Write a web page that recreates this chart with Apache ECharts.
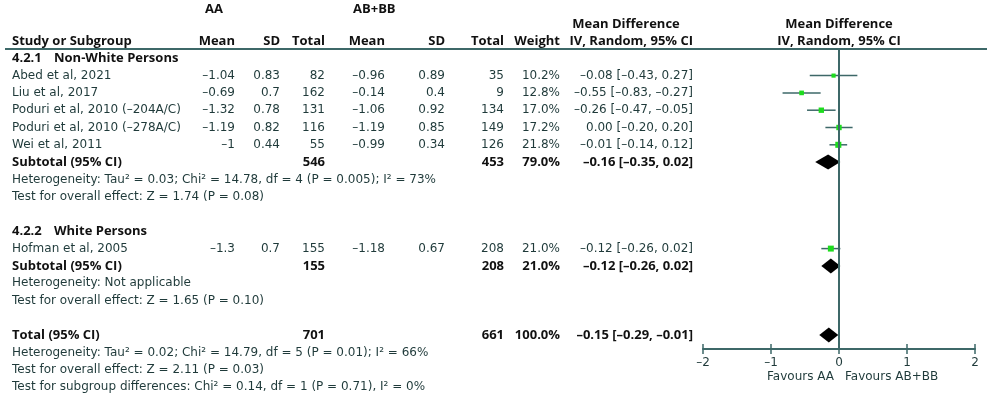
<!DOCTYPE html>
<html>
<head>
<meta charset="utf-8">
<script src="https://cdn.jsdelivr.net/npm/echarts@6/dist/echarts.min.js"></script>
<style>
  html, body { margin: 0; padding: 0; background: #fff; }
  #forest { width: 989px; height: 395px; }
</style>
</head>
<body>
<div id="forest"></div>
<script>
// study rows
const studies = ['Abed et al, 2021', 'Liu et al, 2017', 'Poduri et al, 2010 (\u2013204A/C)',
  'Poduri et al, 2010 (\u2013278A/C)', 'Wei et al, 2011', 'Hofman et al, 2005']
const studyRows = [2, 3, 4, 5, 6, 12]
const aaMean = [-1.04, -0.69, -1.32, -1.19, -1, -1.3]
const aaSD = [0.83, 0.7, 0.78, 0.82, 0.44, 0.7]
const aaTotal = [82, 162, 131, 116, 55, 155]
const bbMean = [-0.96, -0.14, -1.06, -1.19, -0.99, -1.18]
const bbSD = [0.89, 0.4, 0.92, 0.85, 0.34, 0.67]
const bbTotal = [35, 9, 134, 149, 126, 208]
const weights = [10.2, 12.8, 17.0, 17.2, 21.8, 21.0]
const md = [-0.08, -0.55, -0.26, 0.00, -0.01, -0.12]
const ciLow = [-0.43, -0.83, -0.47, -0.20, -0.14, -0.26]
const ciHigh = [0.27, -0.27, -0.05, 0.20, 0.12, 0.02]

// pooled rows (subtotals + total)
const pooledLabels = ['Subtotal (95% CI)', 'Subtotal (95% CI)', 'Total (95% CI)']
const pooledRows = [7, 13, 17]
const pooledAaTotal = [546, 155, 701]
const pooledBbTotal = [453, 208, 661]
const pooledWeight = ['79.0%', '21.0%', '100.0%']
const pooledMd = [-0.16, -0.12, -0.15]
const pooledLow = [-0.35, -0.26, -0.29]
const pooledHigh = [0.02, 0.02, -0.01]

// notes
const groupTitles = [['4.2.1', 'Non-White Persons', 1], ['4.2.2', 'White Persons', 11]]
const notes = [
  ['Heterogeneity: Tau\u00b2 = 0.03; Chi\u00b2 = 14.78, df = 4 (P = 0.005); I\u00b2 = 73%', 8],
  ['Test for overall effect: Z = 1.74 (P = 0.08)', 9],
  ['Heterogeneity: Not applicable', 14],
  ['Test for overall effect: Z = 1.65 (P = 0.10)', 15],
  ['Heterogeneity: Tau\u00b2 = 0.02; Chi\u00b2 = 14.79, df = 5 (P = 0.01); I\u00b2 = 66%', 18],
  ['Test for overall effect: Z = 2.11 (P = 0.03)', 19],
  ['Test for subgroup differences: Chi\u00b2 = 0.14, df = 1 (P = 0.71), I\u00b2 = 0%', 20]
]
const xTicks = [-2, -1, 0, 1, 2]

// layout
const FONT = '12px "DejaVu Sans", sans-serif'
const FONT_B = 'bold 13px "Open Sans", sans-serif'
const TXT = '#1f3a3a'
const BOLD = '#111'
const LINE = '#3d6868'
const ROW0 = 41, PITCH = 17.3
const PLOT_TOP = 49, PLOT_BOTTOM = 349
const col = { study: 12, aaMean: 235, aaSD: 280, aaTotal: 325, bbMean: 385, bbSD: 445, bbTotal: 504, weight: 560, ci: 693, ciHead: 626, plotHead: 839 }

const neg = v => String(v).replace('-', '\u2013')
const f2 = v => neg(v.toFixed(2))
const ciText = (m, l, h) => `${f2(m)} [${f2(l)}, ${f2(h)}]`

let texts = []
function t(x, row, text, align, bold) {
  texts.push({ x, row, text, align: align || 'left', bold: !!bold })
}
t(205, -1.85, 'AA', 'left', true)
t(353, -1.85, 'AB+BB', 'left', true)
t(col.ciHead, -0.95, 'Mean Difference', 'center', true)
t(col.plotHead, -0.95, 'Mean Difference', 'center', true)
t(col.study, 0, 'Study or Subgroup', 'left', true)
t(col.aaMean, 0, 'Mean', 'right', true)
t(col.aaSD, 0, 'SD', 'right', true)
t(col.aaTotal, 0, 'Total', 'right', true)
t(col.bbMean, 0, 'Mean', 'right', true)
t(col.bbSD, 0, 'SD', 'right', true)
t(col.bbTotal, 0, 'Total', 'right', true)
t(col.weight, 0, 'Weight', 'right', true)
t(col.ci, 0, 'IV, Random, 95% CI', 'right', true)
t(col.plotHead, 0, 'IV, Random, 95% CI', 'center', true)
groupTitles.forEach(g => {
  t(col.study, g[2], g[0], 'left', true)
  t(54, g[2], g[1], 'left', true)
})
studies.forEach((s, i) => {
  const r = studyRows[i]
  t(col.study, r, s)
  t(col.aaMean, r, neg(aaMean[i]), 'right')
  t(col.aaSD, r, String(aaSD[i]), 'right')
  t(col.aaTotal, r, String(aaTotal[i]), 'right')
  t(col.bbMean, r, neg(bbMean[i]), 'right')
  t(col.bbSD, r, String(bbSD[i]), 'right')
  t(col.bbTotal, r, String(bbTotal[i]), 'right')
  t(col.weight, r, weights[i].toFixed(1) + '%', 'right')
  t(col.ci, r, ciText(md[i], ciLow[i], ciHigh[i]), 'right')
})
pooledLabels.forEach((s, i) => {
  const r = pooledRows[i]
  t(col.study, r, s, 'left', true)
  t(col.aaTotal, r, String(pooledAaTotal[i]), 'right', true)
  t(col.bbTotal, r, String(pooledBbTotal[i]), 'right', true)
  t(col.weight, r, pooledWeight[i], 'right', true)
  t(col.ci, r, ciText(pooledMd[i], pooledLow[i], pooledHigh[i]), 'right', true)
})
notes.forEach(n => t(col.study, n[1], n[0]))
const favRow = (377 - ROW0) / PITCH
t(834, favRow, 'Favours AA', 'right')
t(845, favRow, 'Favours AB+BB', 'left')

// grid 0 covers the whole page (rows), grid 1 is the forest plot
const rowMin = -ROW0 / PITCH
const rowMax = (395 - ROW0) / PITCH
const plotRowMin = (PLOT_TOP - ROW0) / PITCH
const plotRowMax = (PLOT_BOTTOM - ROW0) / PITCH

const marks = studies.map((s, i) => [ciLow[i], ciHigh[i], md[i], studyRows[i], weights[i]])
const diamonds = pooledRows.map((r, i) => [pooledLow[i], pooledHigh[i], pooledMd[i], r])

const myChart = echarts.init(document.getElementById('forest'))
myChart.setOption({
  animation: false,
  grid: [
    { left: 0, right: 0, top: 0, bottom: 0 },
    { left: 703, right: 14, top: PLOT_TOP, bottom: 395 - PLOT_BOTTOM }
  ],
  xAxis: [
    { gridIndex: 0, type: 'value', min: 0, max: 989, show: false },
    {
      gridIndex: 1, type: 'value', min: -2, max: 2, interval: 1,
      axisLine: { lineStyle: { color: LINE, width: 2 } },
      axisTick: { show: true, length: 5, lineStyle: { color: LINE, width: 1.5 } },
      splitLine: { show: false },
      axisLabel: { color: TXT, fontFamily: '"DejaVu Sans"', fontSize: 12, margin: 8, formatter: v => neg(v) }
    },
    {
      gridIndex: 1, type: 'value', min: -2, max: 2, interval: 1, position: 'bottom',
      axisLine: { show: false },
      axisTick: { show: true, inside: true, length: 5, lineStyle: { color: LINE, width: 1.5 } },
      axisLabel: { show: false }, splitLine: { show: false }
    }
  ],
  yAxis: [
    { gridIndex: 0, type: 'value', inverse: true, min: rowMin, max: rowMax, show: false },
    { gridIndex: 1, type: 'value', inverse: true, min: plotRowMin, max: plotRowMax, show: false }
  ],
  graphic: [{
    type: 'line', shape: { x1: 5, y1: PLOT_TOP, x2: 987, y2: PLOT_TOP },
    style: { stroke: LINE, lineWidth: 2 }
  }],
  series: [
    {
      type: 'custom', xAxisIndex: 0, yAxisIndex: 0, silent: true,
      data: texts.map(d => [d.x, d.row]),
      renderItem: (params, api) => {
        const d = texts[params.dataIndex]
        const p = api.coord([d.x, d.row])
        return {
          type: 'text', x: p[0], y: p[1],
          style: {
            text: d.text, align: d.align, textAlign: d.align,
            verticalAlign: 'middle', textVerticalAlign: 'middle',
            font: d.bold ? FONT_B : FONT,
            fill: d.bold ? BOLD : TXT
          }
        }
      }
    },
    {
      type: 'custom', xAxisIndex: 1, yAxisIndex: 1, silent: true,
      data: marks,
      renderItem: (params, api) => {
        const a = api.coord([api.value(0), api.value(3)])
        const b = api.coord([api.value(1), api.value(3)])
        const c = api.coord([api.value(2), api.value(3)])
        const s = Math.sqrt(api.value(4)) * 1.3
        return {
          type: 'group', children: [
            { type: 'line', shape: { x1: a[0], y1: a[1], x2: b[0], y2: b[1] }, style: { stroke: LINE, lineWidth: 1.5 } },
            { type: 'rect', shape: { x: c[0] - s / 2, y: c[1] - s / 2, width: s, height: s }, style: { fill: '#1edc1e' } }
          ]
        }
      },
      markLine: {
        silent: true, symbol: 'none', label: { show: false },
        lineStyle: { color: LINE, width: 2, type: 'solid' },
        data: [{ xAxis: 0 }]
      }
    },
    {
      type: 'custom', xAxisIndex: 1, yAxisIndex: 1, silent: true,
      data: diamonds,
      renderItem: (params, api) => {
        const a = api.coord([api.value(0), api.value(3)])
        const b = api.coord([api.value(1), api.value(3)])
        const c = api.coord([api.value(2), api.value(3)])
        const h = 7.5
        return {
          type: 'polygon',
          shape: { points: [[a[0], a[1]], [c[0], c[1] - h], [b[0], b[1]], [c[0], c[1] + h]] },
          style: { fill: '#000' }
        }
      }
    }
  ]
})
</script>
</body>
</html>
